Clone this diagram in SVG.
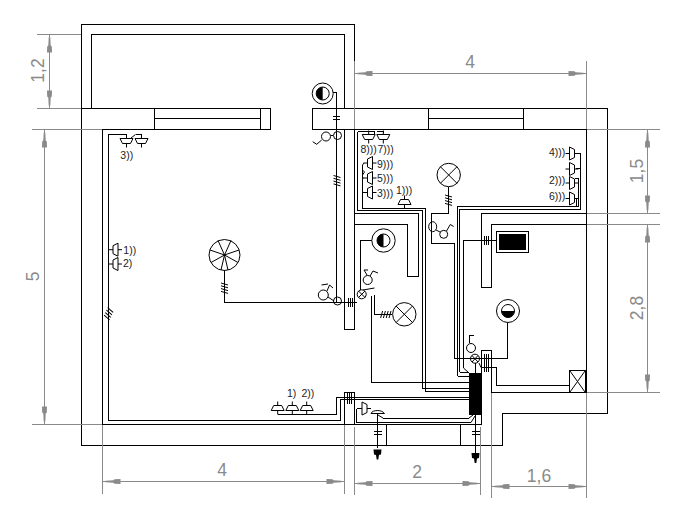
<svg xmlns="http://www.w3.org/2000/svg" xmlns:xlink="http://www.w3.org/1999/xlink" width="682" height="521" viewBox="0 0 682 521">
<style>
.w{fill:none;stroke:#000;stroke-width:1;shape-rendering:crispEdges}
.c{fill:#fff;stroke:#000;stroke-width:1}
.n{fill:none;stroke:#000;stroke-width:1}
.k{fill:#000;stroke:none}
.d{fill:none;stroke:#8a8a8a;stroke-width:1;shape-rendering:crispEdges}
.a{fill:#8a8a8a;stroke:none}
.t{font-family:"Liberation Sans",Arial,sans-serif;font-size:17.500px;fill:#8a8a8a;text-anchor:middle}
.l{font-family:"Liberation Sans",Arial,sans-serif;font-size:10.500px;fill:#222}
</style>
<defs>
<polygon id="ah" class="a" points="3,-0.800 11,-1.200 12,-2.300 18,-2.500 18,2.500 12,2.300 11,1.200 3,0.800"/>
<path id="so" class="n" d="M-6.500 -2.500H6.500L4 2.500H-4L-6.500 -2.500M0 -6.500V-2.500M0 2.500V6.500"/>
<path id="ha" class="n" d="M-3.500 -5.500L3.500 -3.500M-3.500 -2.700L3.500 -0.700M-3.500 0.100L3.500 2.100M-3.500 2.900L3.500 4.900"/>
<g id="lamp"><circle class="n" r="11.700"/><path class="n" d="M-8.300 -8.300L8.300 8.300M-8.300 8.300L8.300 -8.300"/></g>
<path id="arrow" class="k" d="M-4 0H4L3.500 5L1.500 5.500L0.800 10H-0.800L-1.500 5.500L-3.500 5Z"/>
</defs>
<rect width="682" height="521" fill="#fff"/>

<g id="walls">
<path class="w" d="M354.500 61V24.500H81.500V445.500H502.500V413.500H607.500V108.500H312.500V129.500H586.500V392.500H491.500"/>
<path class="w" d="M91.500 108.500V34.500H344.500V108.500"/>
<path class="w" d="M81.500 108.500H270.500V129.500H102.500V424.500H344.500V392.500H354.500V424.500H481.500V350.500H491.500V392.500"/>
<path class="w" d="M344.500 424.500H354.500"/>
<path class="w" d="M154.500 108.500V129.500M154.500 118.500H260.500M260.500 108.500V129.500"/>
<path class="w" d="M428.500 108.500V129.500M428.500 118.500H523.500M523.500 108.500V129.500"/>
<path class="w" d="M344.500 129.500V329.500H354.500V129.500"/>
<path class="w" d="M354.500 213.500H418.500V276.500H407.500V224.500H354.500"/>
<path class="w" d="M586.500 213.500H481.500V287.500H491.500V224.500H586.500"/>
<path class="w" d="M386.500 424.500V445.500M460.500 424.500V445.500"/>
</g>

<g id="dimensions">
<path class="d" d="M37 34.500H81M37 108.500H81M49.500 34.500V108.500"/>
<use xlink:href="#ah" href="#ah" transform="translate(49.500 34.500) rotate(90)"/>
<use xlink:href="#ah" href="#ah" transform="translate(49.500 108.500) rotate(-90)"/>
<text class="t" transform="translate(44 70.500) rotate(-90)" x="0" y="0">1,2</text>
<path class="d" d="M32 129.500H102M32 424.500H102M44.500 129.500V424.500"/>
<use xlink:href="#ah" href="#ah" transform="translate(44.500 129.500) rotate(90)"/>
<use xlink:href="#ah" href="#ah" transform="translate(44.500 424.500) rotate(-90)"/>
<text class="t" transform="translate(39 276.500) rotate(-90)" x="0" y="0">5</text>
<path class="d" d="M102.500 424.500V494M344.500 424.500V494M102.500 481.500H344.500"/>
<use xlink:href="#ah" href="#ah" transform="translate(102.500 481.500)"/>
<use xlink:href="#ah" href="#ah" transform="translate(344.500 481.500) rotate(180)"/>
<text class="t" x="222" y="476">4</text>
<path class="d" d="M354.500 427V495M480.500 427V495M354.500 483.500H480.500"/>
<use xlink:href="#ah" href="#ah" transform="translate(354.500 483.500)"/>
<use xlink:href="#ah" href="#ah" transform="translate(480.500 483.500) rotate(180)"/>
<text class="t" x="417" y="478">2</text>
<path class="d" d="M491.500 392.500V498M586.500 392.500V498M491.500 486.500H586.500"/>
<use xlink:href="#ah" href="#ah" transform="translate(491.500 486.500)"/>
<use xlink:href="#ah" href="#ah" transform="translate(586.500 486.500) rotate(180)"/>
<text class="t" x="539" y="482">1,6</text>
<path class="d" d="M354.500 61V129M586.500 61V129M354.500 73.500H586.500"/>
<use xlink:href="#ah" href="#ah" transform="translate(354.500 73.500)"/>
<use xlink:href="#ah" href="#ah" transform="translate(586.500 73.500) rotate(180)"/>
<text class="t" x="470" y="68">4</text>
<path class="d" d="M587 129.500H660M587 213.500H660M587 224.500H660M587 392.500H660M647.500 129.500V213.500M647.500 224.500V392.500"/>
<use xlink:href="#ah" href="#ah" transform="translate(647.500 129.500) rotate(90)"/>
<use xlink:href="#ah" href="#ah" transform="translate(647.500 213.500) rotate(-90)"/>
<use xlink:href="#ah" href="#ah" transform="translate(647.500 224.500) rotate(90)"/>
<use xlink:href="#ah" href="#ah" transform="translate(647.500 392.500) rotate(-90)"/>
<text class="t" transform="translate(642.500 171) rotate(-90)" x="0" y="0">1,5</text>
<text class="t" transform="translate(642.500 308) rotate(-90)" x="0" y="0">2,8</text>
</g>

<g id="connectors">
<path class="w" d="M126.500 134.500H108.500V420.500H340.500V399.500H469"/>
<path class="w" d="M277.500 414.500H336.500V397.500H469"/>
<path class="w" d="M141.500 135V134.500H135.500"/>
<path class="n" d="M131 138L135.500 134.500"/>
<path class="w" d="M224.500 270V302.500H336.500V92.500H333"/>
<path class="w" d="M333 116.500H340M333 119.500H340"/>
<path class="w" d="M336.500 302.500H357"/>
<path class="w" d="M348.500 298V307M350.500 298V307M352.500 298V307"/>
<path class="w" d="M347.500 393V404M349.500 393V404M351.500 393V404"/>
<path class="w" d="M372 240.500H360.500V290"/>
<path class="w" d="M371.500 296V382.500H469"/>
<path class="w" d="M374.500 295V314.500H392"/>
<path class="w" d="M357.500 131.500V210.500H422.500V388.500H469"/>
<path class="w" d="M357.500 131.500H374.500V133.500M376.500 131.500H383.500V133"/>
<path class="w" d="M362.500 168V208.500H425.500V391.500H469"/>
<path class="w" d="M448.500 187V213.500H431.500V243.500H454.500V358.500H507.500V323"/>
<path class="w" d="M457.500 376.500H469M457.500 376V206.500H578.500V178.500H575"/>
<path class="w" d="M459.500 372.500H469M459.500 372V209.500H580.500V168H576"/>
<path class="w" d="M576.500 198V206M575 153.500H580.500V168"/>
<path class="w" d="M463.500 368V240.500H496"/>
<path class="n" d="M463.500 368L469 373"/>
<path class="w" d="M484.500 236V245M486.500 236V245M488.500 236V245"/>
<path class="w" d="M479 358.500H489M484.500 354V363M486.500 354V363M488.500 354V363"/>
<path class="w" d="M481 367.500H496.500V385.500H569M484.500 363V372M486.500 363V372M488.500 363V372"/>
<path class="n" d="M479 363L481 367.500"/>
<path class="w" d="M475.500 363V373M475.500 415V456M471.500 431.500H479.500M471.500 434.500H479.500"/>
<path class="w" d="M377.500 413V448M373.500 431.500H381.500M373.500 434.500H381.500"/>
<path class="w" d="M356.500 408.500V422.500H471"/>
<path class="n" d="M471 422.500L475 416M378 415L383 418M469 418L473 415"/>
<path class="w" d="M383 418.500H469M356.500 408.500H358"/>
<path class="n" d="M364 163L362.500 165V170L364.500 172L362.500 175V168M364 178H362.500M364 192.500H362.500"/>
<path class="n" d="M331 135.500H333"/>
<path class="w" d="M404.500 206V208"/>
<use xlink:href="#ha" href="#ha" transform="translate(337 181)"/>
<use xlink:href="#ha" href="#ha" transform="translate(224.500 288.500)"/>
<use xlink:href="#ha" href="#ha" transform="translate(448.500 200.500)"/>
<use xlink:href="#ha" href="#ha" transform="translate(108.500 314) rotate(25)"/>
<use xlink:href="#ha" href="#ha" transform="translate(385.500 314.500) rotate(90)"/>
</g>

<g id="panel"><rect class="k" x="469" y="373" width="12.500" height="42"/></g>

<g id="fan">
<circle class="n" cx="224.500" cy="255" r="15.500"/>
<path class="n" d="M224.500 255L218 240.500M224.500 255L231 240.500M224.500 255L210 250M224.500 255L239 250M224.500 255L211 262.500M224.500 255L238 262.500M224.500 255L221 270M224.500 255L228 270"/>
</g>
<g id="lamp-top"><circle class="c" cx="322.700" cy="93.500" r="10.500"/><circle class="n" cx="322.700" cy="93.500" r="6.500"/><path class="k" d="M322.700 87A6.500 6.500 0 0 0 322.700 100Z"/></g>
<g id="lamp-bath"><circle class="c" cx="383.500" cy="240.500" r="11.700"/><circle class="n" cx="383.500" cy="240.500" r="6.500"/><path class="k" d="M383.500 234A6.500 6.500 0 0 0 383.500 247Z"/></g>
<g id="lamp-hall"><circle class="c" cx="508" cy="311" r="11.500"/><circle class="n" cx="508" cy="311" r="6.500"/><path class="k" d="M501.500 311A6.500 6.500 0 0 0 514.500 311Z"/></g>
<g id="lamp-entry"><use xlink:href="#lamp" href="#lamp" transform="translate(448.700 175)"/></g>
<g id="lamp-corridor"><use xlink:href="#lamp" href="#lamp" transform="translate(404.300 314.300)"/></g>
<g id="heater"><rect class="w" x="496.500" y="231.500" width="32" height="21"/><rect class="k" x="499" y="234" width="27" height="16"/></g>
<g id="box"><rect class="w" x="569.500" y="370.500" width="15.500" height="22"/><path class="n" d="M570 371L585 392M585 371L570 392"/></g>

<g id="switches">
<circle class="n" cx="337.500" cy="135.500" r="4"/>
<circle class="n" cx="326" cy="136.500" r="4.500"/>
<path class="n" d="M321.700 140L316.700 144.300L312.700 141.700"/>
<circle class="n" cx="337.500" cy="301" r="4"/>
<circle class="n" cx="323.300" cy="295" r="5"/>
<path class="n" d="M327 291L329.500 285L333 288M321.500 285L328 284M328 297L334 301"/>
<circle class="n" cx="361.700" cy="294.300" r="4.500"/>
<path class="n" d="M358.500 291L365 297.500M365 291L358.500 297.500M363 290L374.500 288"/>
<circle class="n" cx="367.700" cy="280" r="4.500"/>
<path class="n" d="M370 276L373 271L378 273M367 275L364 270H368"/>
<ellipse class="n" cx="432.700" cy="226.700" rx="4" ry="5"/>
<circle class="n" cx="443.700" cy="234.300" r="4"/>
<path class="n" d="M446.500 231L450.300 224.500L453.700 226.500M436 230L440 232"/>
<circle class="n" cx="475" cy="358.700" r="4.500"/>
<path class="n" d="M472 355.500L478 362M478 355.500L472 362"/>
<circle class="n" cx="471" cy="348" r="4.500"/>
<path class="w" d="M469.500 343V335.500H474"/>
</g>

<g id="sockets-left">
<use xlink:href="#so" href="#so" transform="translate(126.500 141)"/>
<use xlink:href="#so" href="#so" transform="translate(141.500 141)"/>
<text class="l" x="120.300" y="159.300">3))</text>
<use xlink:href="#so" href="#so" transform="translate(115.500 249.700) rotate(90)"/>
<text class="l" x="123.300" y="254">1))</text>
<use xlink:href="#so" href="#so" transform="translate(115.500 264) rotate(90)"/>
<text class="l" x="123" y="267">2)</text>
<use xlink:href="#so" href="#so" transform="translate(277.700 408) rotate(180)"/>
<use xlink:href="#so" href="#so" transform="translate(292.300 408) rotate(180)"/>
<use xlink:href="#so" href="#so" transform="translate(306.700 408) rotate(180)"/>
<text class="l" x="287" y="397">1)</text>
<text class="l" x="301.500" y="397">2))</text>
</g>
<g id="sockets-kitchen">
<use xlink:href="#so" href="#so" transform="translate(368.700 137)"/>
<use xlink:href="#so" href="#so" transform="translate(383.300 137)"/>
<text class="l" x="360.500" y="152.700">8)))</text>
<text class="l" x="377.500" y="152.700">7)))</text>
<use xlink:href="#so" href="#so" transform="translate(370 163) rotate(90)"/>
<text class="l" x="377" y="167.700">9)))</text>
<use xlink:href="#so" href="#so" transform="translate(370 178) rotate(90)"/>
<text class="l" x="377" y="182.300">5)))</text>
<use xlink:href="#so" href="#so" transform="translate(370 192.500) rotate(90)"/>
<text class="l" x="377" y="196.700">3)))</text>
<text class="l" x="396" y="194">1)))</text>
<use xlink:href="#so" href="#so" transform="translate(404.500 202) rotate(180)"/>
<use xlink:href="#so" href="#so" transform="translate(572 153.500) rotate(-90)"/>
<text class="l" x="549" y="156">4)))</text>
<use xlink:href="#so" href="#so" transform="translate(572 169) rotate(-90)"/>
<use xlink:href="#so" href="#so" transform="translate(572 183) rotate(-90)"/>
<text class="l" x="549" y="184.300">2)))</text>
<use xlink:href="#so" href="#so" transform="translate(572 198.500) rotate(-90)"/>
<text class="l" x="549" y="200">6)))</text>
</g>
<g id="sockets-bath">
<use xlink:href="#so" href="#so" transform="translate(364.500 408.500) rotate(-90)"/>
<path class="n" d="M371 413.500C372.500 409.500 382 409.500 384.500 413.500Z"/>
</g>
<g id="outlets">
<use xlink:href="#arrow" href="#arrow" transform="translate(377.500 449.500)"/>
<use xlink:href="#arrow" href="#arrow" transform="translate(475.500 453)"/>
</g>
</svg>
